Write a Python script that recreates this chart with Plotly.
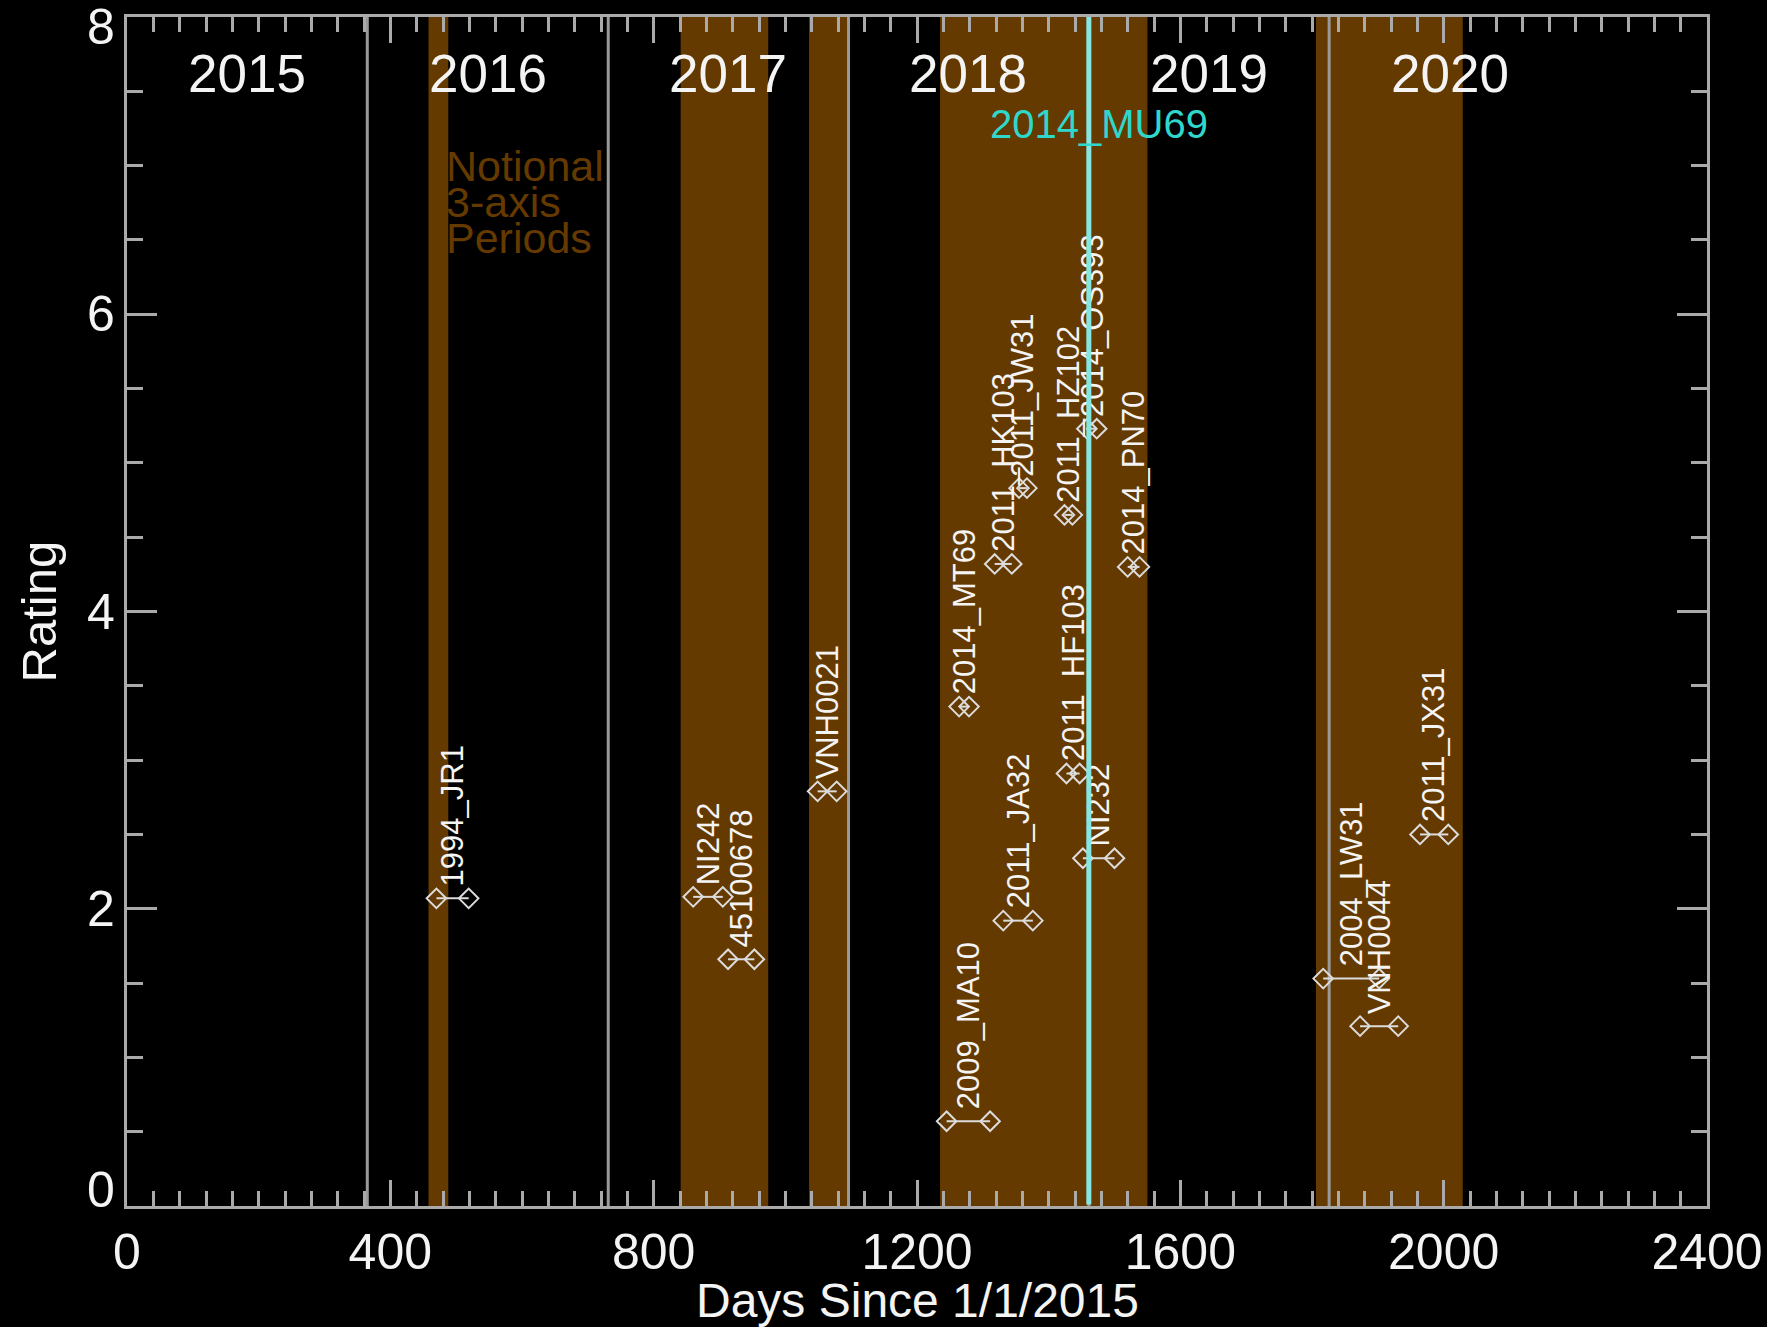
import plotly.graph_objects as go

# ---- data -------------------------------------------------------------
year_starts = [365, 731, 1096, 1461, 1826]
year_names = ["2015", "2016", "2017", "2018", "2019", "2020"]
year_mid_days = [182, 548, 913, 1278, 1644, 2009]

# notional 3-axis periods (days since 1/1/2015)
band_start = [458, 841, 1036, 1235, 1806]
band_end = [488, 974, 1096, 1550, 2029]

flyby_day = 1461
flyby_name = "2014_MU69"

obj_names = ["1994_JR1", "NI242", "45100678", "VNH0021", "2014_MT69",
             "2009_MA10", "2011_HK103", "2011_JW31", "2011_JA32",
             "2011_HZ102", "2011_HF103", "2014_OS393", "NI232",
             "2014_PN70", "2004_LW31", "VNH0044", "2011_JX31"]
obj_start = [470, 860, 913, 1049, 1264, 1245, 1318, 1355, 1331,
             1424, 1427, 1458, 1452, 1520, 1817, 1873, 1964]
obj_end = [519, 905, 953, 1078, 1279, 1311, 1344, 1367, 1376,
           1436, 1447, 1473, 1500, 1538, 1902, 1931, 2007]
obj_rating = [2.07, 2.08, 1.66, 2.79, 3.36, 0.57, 4.32, 4.83, 1.92,
              4.65, 2.91, 5.23, 2.34, 4.30, 1.53, 1.21, 2.50]

x_ticks = [0, 400, 800, 1200, 1600, 2000, 2400]
y_ticks = [0, 2, 4, 6, 8]
x_title = "Days Since 1/1/2015"
y_title = "Rating"
band_note = ["Notional", "3-axis", "Periods"]

# ---- styling ----------------------------------------------------------
FONT = "Liberation Sans, Arial, Helvetica, sans-serif"
BROWN = "#653A00"
GRAY = "#9a9a9a"
AXIS = "#aaaaaa"
CYAN = "#86E6E2"
CYAN_TXT = "#2ED8CC"
WHITE = "#f4f4f4"
MARK = "#dcdcdc"
X_MAX, Y_MAX = 2400, 8

fig = go.Figure()

shapes = []
for s, e in zip(band_start, band_end):
    shapes.append(dict(type="rect", xref="x", yref="y", x0=s, x1=e, y0=0, y1=Y_MAX,
                       fillcolor=BROWN, line=dict(width=0), layer="below"))
for d in year_starts:
    shapes.append(dict(type="line", xref="x", yref="y", x0=d, x1=d, y0=0, y1=Y_MAX,
                       line=dict(color=GRAY, width=3), layer="below"))

# observation windows: two diamonds joined by a line
xs, ys = [], []
for s, e, r in zip(obj_start, obj_end, obj_rating):
    xs += [s, e, None]
    ys += [r, r, None]
fig.add_trace(go.Scatter(
    x=xs, y=ys, mode="lines+markers", hoverinfo="skip",
    line=dict(color=MARK, width=2),
    marker=dict(symbol="diamond-open", size=15, color=MARK, line=dict(width=2, color=MARK)),
    showlegend=False))

ann = []
# object names, rotated, above each window
for n, s, e, r in zip(obj_names, obj_start, obj_end, obj_rating):
    ann.append(dict(x=(s + e) / 2, y=r, xref="x", yref="y", text=n, showarrow=False,
                    textangle=-90, xanchor="center", yanchor="bottom", yshift=10,
                    font=dict(family=FONT, size=31, color=WHITE)))

# year names
for n, d in zip(year_names, year_mid_days):
    ann.append(dict(x=d, y=7.62, xref="x", yref="y", text=n, showarrow=False,
                    xanchor="center", yanchor="middle",
                    font=dict(family=FONT, size=53, color=WHITE)))

# 3-axis note: tightly stacked lines, each box trimmed to its glyph height
for i, t in enumerate(band_note):
    ann.append(dict(x=band_end[0], y=7.0 - 0.245 * i, xref="x", yref="y", text=t,
                    showarrow=False, xanchor="left", yanchor="middle", xshift=-2,
                    height=34, valign="middle", borderpad=0, borderwidth=0,
                    font=dict(family=FONT, size=43, color=BROWN)))

# flyby line drawn on top of the labels
ann.append(dict(x=flyby_day, y=Y_MAX, ax=flyby_day, ay=0, xref="x", yref="y",
                axref="x", ayref="y", text="", showarrow=True, arrowhead=0,
                arrowwidth=5, arrowcolor=CYAN, standoff=0, startstandoff=0))
ann.append(dict(x=flyby_day + 16, y=7.28, xref="x", yref="y", text=flyby_name,
                showarrow=False, xanchor="center", yanchor="middle",
                font=dict(family=FONT, size=40, color=CYAN_TXT)))

# y tick labels (end labels nudged inward)
for v in y_ticks:
    shift = -10 if v == Y_MAX else (16 if v == 0 else 0)
    ann.append(dict(x=0, y=v, xref="paper", yref="y", text=str(v), showarrow=False,
                    xanchor="right", yanchor="middle", xshift=-10, yshift=shift,
                    font=dict(family=FONT, size=50, color=WHITE)))

# axis titles
ann.append(dict(x=0.5, y=0, xref="paper", yref="paper", text=x_title, showarrow=False,
                xanchor="center", yanchor="top", yshift=-73, height=48,
                valign="bottom", borderpad=0, borderwidth=0,
                font=dict(family=FONT, size=48, color=WHITE)))
ann.append(dict(x=0, y=0.5, xref="paper", yref="paper", text=y_title, showarrow=False,
                textangle=-90, xanchor="center", yanchor="middle", xshift=-89,
                font=dict(family=FONT, size=49, color=WHITE)))

fig.update_layout(
    width=1767, height=1327,
    margin=dict(l=127, r=60, t=17, b=121, autoexpand=False),
    paper_bgcolor="black", plot_bgcolor="black",
    shapes=shapes, annotations=ann, showlegend=False,
    font=dict(family=FONT, color=WHITE),
)
fig.update_xaxes(
    range=[0, X_MAX], tickvals=x_ticks, ticktext=[str(v) for v in x_ticks],
    ticks="inside", ticklen=26, tickwidth=2.5, tickcolor=AXIS,
    minor=dict(dtick=40, tick0=0, ticks="inside", ticklen=15, tickwidth=2.5, tickcolor=AXIS),
    showline=True, linecolor=AXIS, linewidth=3, mirror="ticks",
    showgrid=False, zeroline=False, automargin=False,
    tickfont=dict(family=FONT, size=50, color=WHITE),
)
fig.update_yaxes(
    range=[0, Y_MAX], tickvals=y_ticks, showticklabels=False,
    ticks="inside", ticklen=30, tickwidth=2.5, tickcolor=AXIS,
    minor=dict(dtick=0.5, tick0=0, ticks="inside", ticklen=16, tickwidth=2.5, tickcolor=AXIS),
    showline=True, linecolor=AXIS, linewidth=3, mirror="ticks",
    showgrid=False, zeroline=False, automargin=False,
)

fig.write_html("out.html")
